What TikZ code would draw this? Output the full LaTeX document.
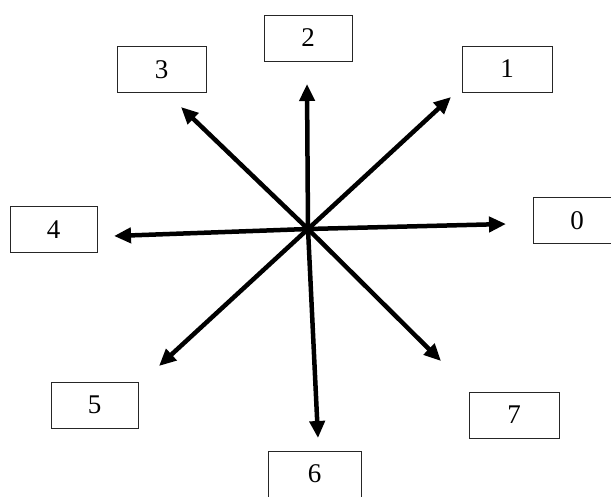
\documentclass[tikz,border=0pt]{standalone}
\usepackage{fontspec}
\setmainfont{Liberation Serif}
\usetikzlibrary{arrows.meta}
\begin{document}
\begin{tikzpicture}[x=1pt,y=-1pt,
  lab/.style={draw=black!85,line width=0.9pt,rectangle,minimum width=#1,minimum height=46pt,inner sep=0pt,font=\fontsize{27}{30}\selectfont},
  lab/.default=89pt,
  ray/.style={line width=4.5pt,-{Triangle[length=17pt,width=15pt]}}]
\useasboundingbox (0,0) rectangle (611,496);
\clip (0,0) rectangle (611,496);
\node[lab] (b3) at (161.5,69.5) {3};
\node[lab=88pt] (b2) at (308,38) {2};
\node[lab=90pt] (b1) at (507,69) {1};
\node[lab=87pt] (b4) at (53.5,229.5) {4};
\node[lab=88pt] (b0) at (577,220.5) {0};
\node[lab=87pt] (b5) at (94.5,405) {5};
\node[lab=90pt] (b7) at (514,415) {7};
\node[lab=93pt] (b6) at (314.5,474) {6};
\coordinate (c) at (308,229);
\coordinate (e0) at (506,224);
\coordinate (e1) at (451,97);
\coordinate (e2) at (307,84);
\coordinate (e3) at (181,107);
\coordinate (e4) at (114,236);
\coordinate (e5) at (159,366);
\coordinate (e6) at (318,438);
\coordinate (e7) at (441,361);
\foreach \i in {0,...,7} \draw[ray] (c) -- (e\i);
\end{tikzpicture}
\end{document}
